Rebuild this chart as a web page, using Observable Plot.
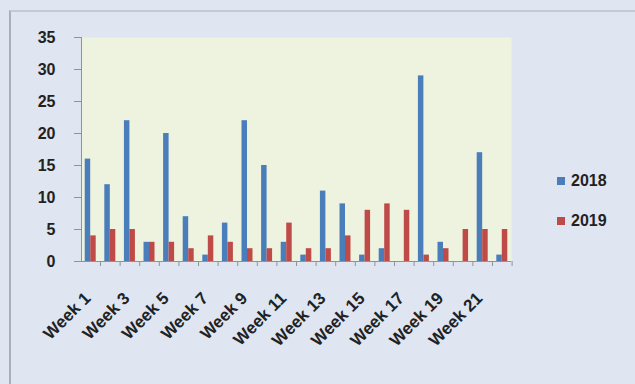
<!DOCTYPE html>
<html>
<head>
<meta charset="utf-8">
<script src="https://cdn.jsdelivr.net/npm/d3@7"></script>
<script src="https://cdn.jsdelivr.net/npm/@observablehq/plot@0.6"></script>
<style>
  html, body { margin: 0; padding: 0; background: #dfe6f2; }
  #wrap { position: relative; width: 635px; height: 384px; overflow: hidden; }
  #border { position: absolute; left: 9px; top: 10px; width: 640px; height: 380px;
            border-left: 2px solid #a9b0ba; border-top: 2px solid #c4cad3; box-sizing: border-box; pointer-events: none; }
  #legend { position: absolute; left: 557px; top: 169px; font: bold 16px "Liberation Sans", Arial, sans-serif; color: #222; }
  #legend div { display: flex; align-items: center; height: 24px; margin-bottom: 16px; }
  #legend span.sw { display: inline-block; width: 8px; height: 8px; margin-right: 6px; }
</style>
</head>
<body>
<div id="wrap">
  <div id="chart"></div>
  <div id="legend"></div>
  <div id="border"></div>
</div>
<script>
const weeks = ["Week 1","Week 2","Week 3","Week 4","Week 5","Week 6","Week 7","Week 8","Week 9","Week 10","Week 11","Week 12","Week 13","Week 14","Week 15","Week 16","Week 17","Week 18","Week 19","Week 20","Week 21","Week 22"];
const series2018 = [16,12,22,3,20,7,1,6,22,15,3,1,11,9,1,2,0,29,3,0,17,1];
const series2019 = [4,5,5,3,3,2,4,3,2,2,6,2,2,4,8,9,8,1,2,5,5,5];
const yTicks = [0,5,10,15,20,25,30,35];
const seriesNames = ["2018","2019"];
const colors = ["#4a7ebb","#be4b48"];

const d18 = weeks.map((w,i) => ({week: w, value: series2018[i]}));
const d19 = weeks.map((w,i) => ({week: w, value: series2019[i]}));

const font = '"Liberation Sans", Arial, sans-serif';

const chart = Plot.plot({
  width: 635,
  height: 384,
  marginLeft: 81,
  marginRight: 124,
  marginTop: 37,
  marginBottom: 123,
  style: {background: "transparent", fontFamily: font, overflow: "visible"},
  x: {domain: weeks, paddingInner: 0.72, paddingOuter: 0.33, align: 0.5, round: false, label: null},
  y: {domain: [0, 35], label: null},
  marks: [
    Plot.frame({fill: "#eef3df", stroke: null}),
    Plot.barY(d18, {x: "week", y: "value", fill: colors[0], dx: -2.75}),
    Plot.barY(d19, {x: "week", y: "value", fill: colors[1], dx: 2.75}),
    Plot.ruleY([0], {stroke: "#8c939c"}),
    Plot.frame({anchor: "left", stroke: "#8c939c"}),
    Plot.axisY({ticks: yTicks, tickSize: 7, tickPadding: 19, stroke: "#8c939c", label: null,
      fontSize: 16, fontWeight: "bold", fill: "#222"}),
    Plot.axisX({tickSize: 5, text: null, label: null, stroke: "#8c939c", dx: 9.8}),
    Plot.axisX({tickSize: 0, tickPadding: 34, tickRotate: -45, label: null, dx: -3,
      tickFormat: (d) => (weeks.indexOf(d) % 2 === 0 ? d : ""),
      fontSize: 17, fontWeight: "bold", fill: "#222", textAnchor: "end"})
  ]
});
document.getElementById("chart").appendChild(chart);

const legend = document.getElementById("legend");
seriesNames.forEach((n, i) => {
  const row = document.createElement("div");
  const sw = document.createElement("span");
  sw.className = "sw";
  sw.style.background = colors[i];
  row.appendChild(sw);
  row.appendChild(document.createTextNode(n));
  legend.appendChild(row);
});
</script>
</body>
</html>
